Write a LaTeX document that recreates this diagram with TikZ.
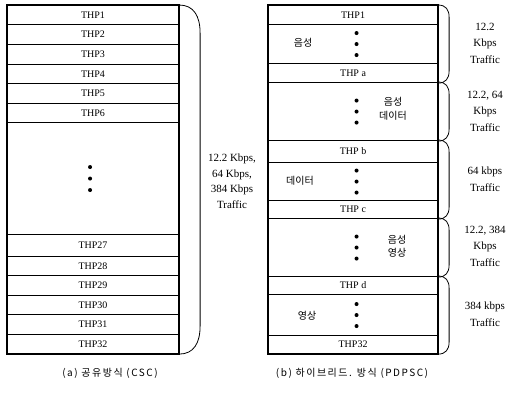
\documentclass[tikz,border=0pt]{standalone}
\usepackage{fontspec}
\setmainfont{Liberation Serif}
\newfontfamily\krfont{Noto Sans CJK KR}
\newfontfamily\capfont[LetterSpace=15]{Noto Sans CJK KR}
\newcommand\mybrace[4]{%
  \draw[bracestyle] (#3) .. controls ([xshift=#1*0.7]#3) and ([xshift=#1,yshift=-#2*0.4]#3) .. ([xshift=#1,yshift=-#2]#3)
    -- ([xshift=#1,yshift=#2]#4) .. controls ([xshift=#1,yshift=#2*0.4]#4) and ([xshift=#1*0.7]#4) .. (#4);}
\begin{document}
\begin{tikzpicture}[x=1pt,y=-1pt,
  row/.style={draw, line width=1.1pt, anchor=north west, minimum width=171pt, inner sep=0pt,
    font=\fontsize{10}{12}\selectfont},
  rrow/.style={row, minimum width=169pt},
  lab/.style={align=center, font=\fontsize{11}{15.5}\selectfont, inner sep=0pt},
  krlab/.style={font=\krfont\fontsize{10}{13.5}\selectfont, inner sep=0pt, align=center},
  dot/.style={circle, fill, inner sep=0pt, minimum size=4pt},
  bracestyle/.style={line width=0.8pt},
  outer/.style={line width=1.6pt},
  captext/.style={font=\capfont\fontsize{10}{12}\selectfont, inner sep=0pt}]
\useasboundingbox (0,0) rectangle (513,394);

% ---------- left panel (a) ----------
\node[row, minimum height=19pt] (l1) at (7,5) {THP1};
\node[row, minimum height=20pt] (l2) at (7,24) {THP2};
\node[row, minimum height=20pt] (l3) at (7,44) {THP3};
\node[row, minimum height=19pt] (l4) at (7,64) {THP4};
\node[row, minimum height=20pt] (l5) at (7,83) {THP5};
\node[row, minimum height=19pt] (l6) at (7,103) {THP6};
\node[row, minimum height=112pt] (l7) at (7,122) {};
\node[row, minimum height=22pt] (l27) at (7,234) {THP27};
\node[row, minimum height=19pt] (l28) at (7,256) {THP28};
\node[row, minimum height=20pt] (l29) at (7,275) {THP29};
\node[row, minimum height=19pt] (l30) at (7,295) {THP30};
\node[row, minimum height=20pt] (l31) at (7,314) {THP31};
\node[row, minimum height=19pt] (l32) at (7,334) {THP32};
\draw[outer] (l1.north west) rectangle (l32.south east);
\node[dot] (ld1) at ([xshift=-3pt,yshift=11.5pt]l7.center) {};
\node[dot] (ld2) at ([xshift=-3pt]l7.center) {};
\node[dot] (ld3) at ([xshift=-3pt,yshift=-11.5pt]l7.center) {};
\mybrace{21pt}{28pt}{l1.north east}{l32.south east}
\node[lab] (tl) at (232,181) {12.2 Kbps,\\64 Kbps,\\384 Kbps\\Traffic};
\node[captext] (capa) at (110,373) {(a) 공유방식 (CSC)};

% ---------- right panel (b) ----------
\node[rrow, minimum height=19pt] (r1) at (268,5) {THP1};
\node[rrow, minimum height=39pt] (rv1) at (268,24) {};
\node[rrow, minimum height=19pt] (ra) at (268,63) {THP a};
\node[rrow, minimum height=58pt] (rv2) at (268,82) {};
\node[rrow, minimum height=22pt] (rb) at (268,140) {THP b};
\node[rrow, minimum height=38pt] (rv3) at (268,162) {};
\node[rrow, minimum height=18pt] (rc) at (268,200) {THP c};
\node[rrow, minimum height=58pt] (rv4) at (268,218) {};
\node[rrow, minimum height=18pt] (rd) at (268,276) {THP d};
\node[rrow, minimum height=41pt] (rv5) at (268,294) {};
\node[rrow, minimum height=18pt] (r32) at (268,335) {THP32};
\draw[outer] (r1.north west) rectangle (r32.south east);

\foreach \r in {rv1,rv2,rv3,rv4,rv5}{
  \node[dot] (\r d1) at ([xshift=3.5pt,yshift=11pt]\r.center) {};
  \node[dot] (\r d2) at ([xshift=3.5pt]\r.center) {};
  \node[dot] (\r d3) at ([xshift=3.5pt,yshift=-11pt]\r.center) {};
}
\node[krlab] (k1) at (303,43) {음성};
\node[krlab] (k2) at (393,109) {음성\\데이터};
\node[krlab] (k3) at (300,181) {데이터};
\node[krlab] (k4) at (397,246) {음성\\영상};
\node[krlab] (k5) at (307,316) {영상};

\mybrace{11pt}{12pt}{r1.north east}{ra.south east}
\mybrace{11pt}{12pt}{rv2.north east}{rv2.south east}
\mybrace{11pt}{12pt}{rb.north east}{rc.south east}
\mybrace{11pt}{12pt}{rv4.north east}{rv4.south east}
\mybrace{11pt}{12pt}{rd.north east}{r32.south east}

\node[lab, font=\fontsize{11}{16.5}\selectfont] (t1) at (485,43) {12.2\\Kbps\\Traffic};
\node[lab, font=\fontsize{11}{16.5}\selectfont] (t2) at (485,111) {12.2, 64\\Kbps\\Traffic};
\node[lab, font=\fontsize{11}{16.5}\selectfont] (t3) at (485,179) {64 kbps\\Traffic};
\node[lab, font=\fontsize{11}{16.5}\selectfont] (t4) at (485,246) {12.2, 384\\Kbps\\Traffic};
\node[lab, font=\fontsize{11}{16.5}\selectfont] (t5) at (485,314) {384 kbps\\Traffic};
\node[captext] (capb) at (352,373) {(b) 하이브리드. 방식 (PDPSC)};
\end{tikzpicture}
\end{document}
